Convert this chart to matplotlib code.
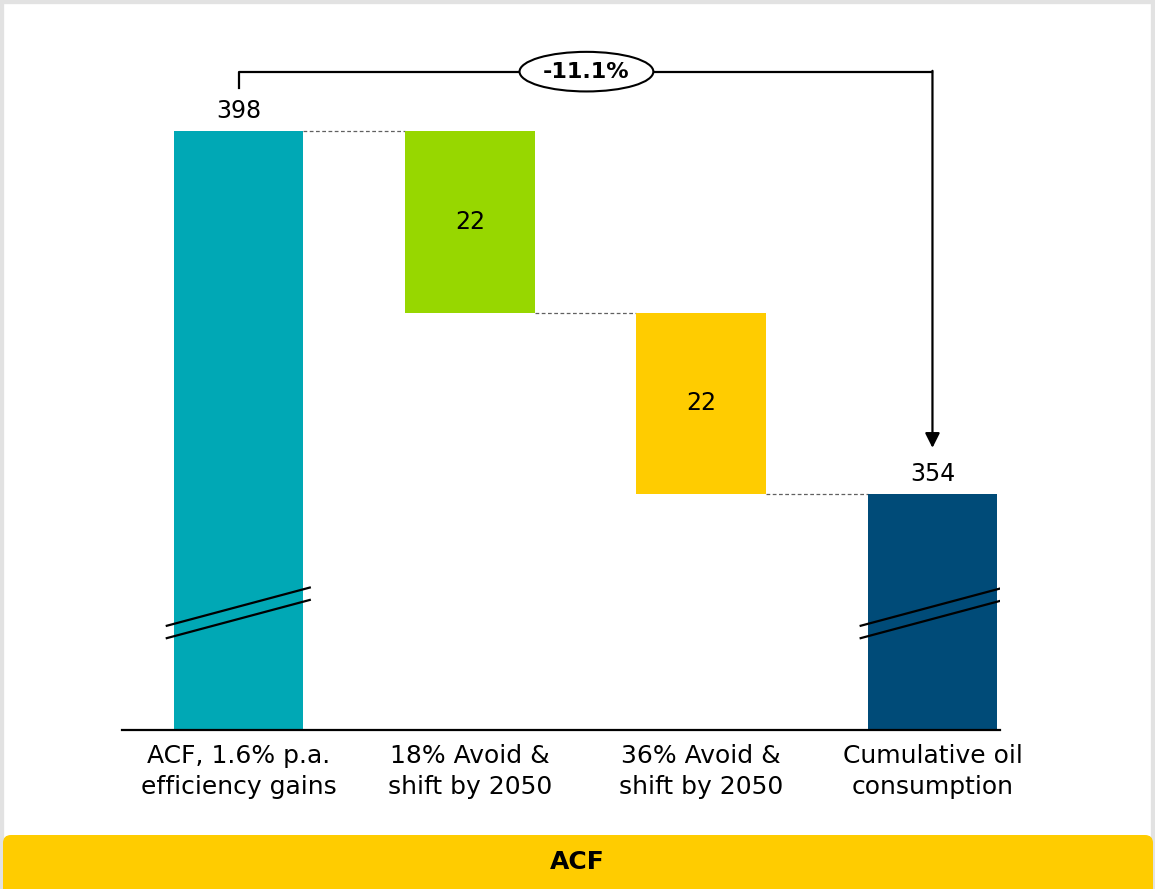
import matplotlib
matplotlib.use("Agg")
import matplotlib.pyplot as plt
from matplotlib.patches import FancyBboxPatch, Rectangle

# data
labels = ['ACF, 1.6% p.a.\nefficiency gains', '18% Avoid &\nshift by 2050',
          '36% Avoid &\nshift by 2050', 'Cumulative oil\nconsumption']
start_value = 398
steps = [22, 22]
end_value = 354
change_label = '-11.1%'
banner_label = 'ACF'
colors = ['#00A8B5', '#97D700', '#FFCC00', '#004B78']

plt.rcParams['font.family'] = ['DejaVu Sans']

fig = plt.figure(figsize=(11.55, 8.89), dpi=100)
ax = fig.add_axes([122 / 1155, 159 / 889, 878 / 1155, 710 / 889])

ylo = 325.4
ax.set_xlim(-0.504, 3.292)
ax.set_ylim(ylo, ylo + 710 / 8.25)

w = 0.56
x = list(range(len(labels)))

# totals
ax.bar(x[0], start_value, width=w, color=colors[0], zorder=2)
ax.bar(x[3], end_value, width=w, color=colors[3], zorder=2)

# decreases
level = start_value
for i, s in enumerate(steps):
    xi = x[i + 1]
    ax.bar(xi, s, bottom=level - s, width=w, color=colors[i + 1], zorder=2)
    ax.text(xi, level - s / 2, str(s), ha='center', va='center', fontsize=17)
    ax.plot([xi - 1 + w / 2, xi - w / 2], [level, level], color='#606060',
            lw=0.9, ls=(0, (3, 2)), zorder=1)
    level -= s
ax.plot([x[3] - 1 + w / 2, x[3] - w / 2], [level, level], color='#606060',
        lw=0.9, ls=(0, (3, 2)), zorder=1)

# total labels
for xi, v in [(x[0], start_value), (x[3], end_value)]:
    ax.annotate(str(v), (xi, v), xytext=(0, 6), textcoords='offset points',
                ha='center', va='bottom', fontsize=17)

# axis break marks
for xi in [x[0], x[3]]:
    for off in [0, -1.5]:
        ax.plot([xi - 0.315, xi + 0.3125], [ylo + 12.6 + off, ylo + 17.3 + off],
                color='black', lw=1.6, zorder=3, solid_capstyle='butt')

# bracket with arrow
yb = start_value + 7.2
ax.plot([x[0], x[0], x[3]], [start_value + 5.2, yb, yb], color='black', lw=1.6,
        zorder=3)
ax.annotate('', xy=(x[3], end_value + 5.6), xytext=(x[3], yb + 0.1),
            arrowprops=dict(arrowstyle='-|>', lw=1.6, color='black',
                            mutation_scale=22, shrinkA=0, shrinkB=0), zorder=3)
ax.text(1.504, yb, change_label, ha='center', va='center', fontsize=16,
        fontweight='bold', zorder=4,
        bbox=dict(boxstyle='ellipse,pad=0.18', fc='white', ec='black', lw=1.5))

ax.set_xticks(x)
ax.set_xticklabels(labels, fontsize=18, linespacing=1.35)
ax.tick_params(axis='x', length=0, pad=10)
ax.set_yticks([])
for sp in ['left', 'right', 'top']:
    ax.spines[sp].set_visible(False)
ax.spines['bottom'].set_linewidth(1.6)
ax.spines['bottom'].set_zorder(4)

# frame and banner
fig.patches.append(Rectangle((0, 0), 1, 1, transform=fig.transFigure, fill=False,
                             ec='#e2e2e2', lw=6))
banner = FancyBboxPatch((0.03, -0.2), 11.5, 0.74,
                        boxstyle='round,pad=0,rounding_size=0.08',
                        transform=fig.dpi_scale_trans, fc='#FFCC00', ec='none')
fig.patches.append(banner)
fig.text(0.5, 27 / 889, banner_label, ha='center', va='center', fontsize=18,
         fontweight='bold')

fig.savefig('out.png', dpi=100, facecolor='white')
